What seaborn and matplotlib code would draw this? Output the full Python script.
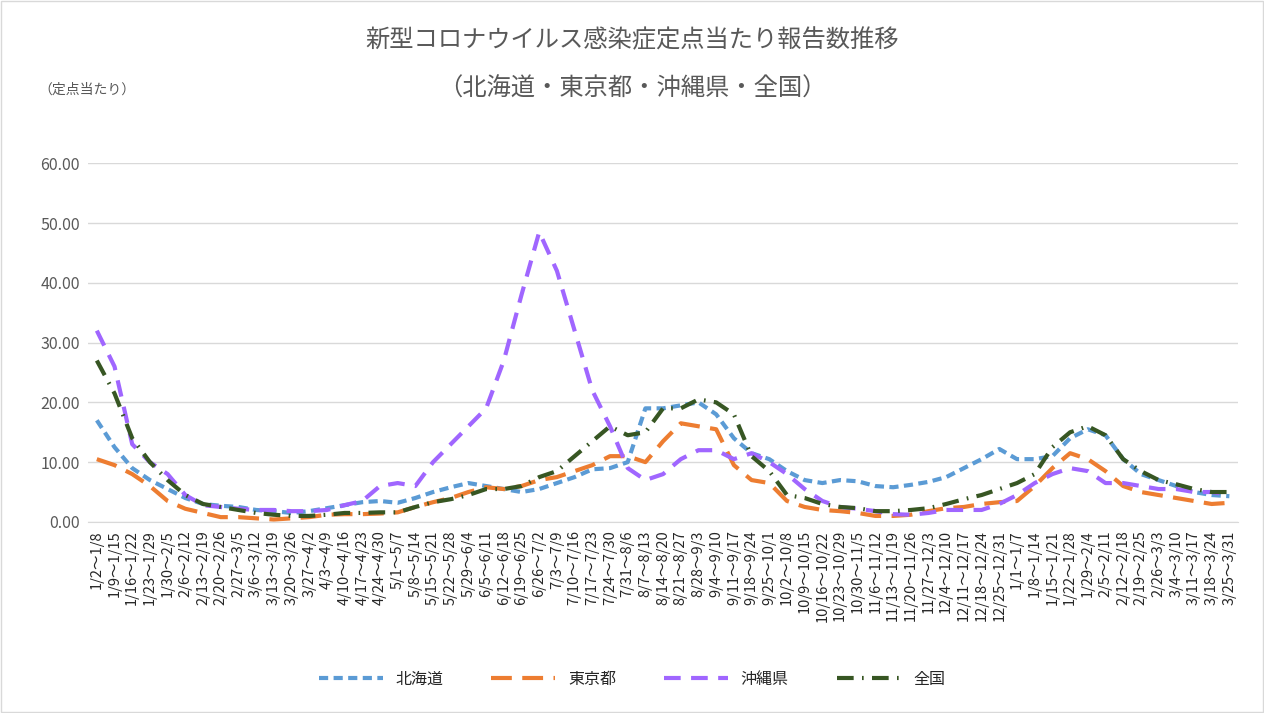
import matplotlib
matplotlib.use("Agg")
import matplotlib.pyplot as plt
import seaborn as sns
import pandas as pd
import numpy as np

plt.rcParams["font.family"] = ["Noto Sans CJK JP", "DejaVu Sans"]

weeks = ["1/2～1/8","1/9～1/15","1/16～1/22","1/23～1/29","1/30～2/5","2/6～2/12","2/13～2/19","2/20～2/26",
 "2/27～3/5","3/6～3/12","3/13～3/19","3/20～3/26","3/27～4/2","4/3～4/9","4/10～4/16","4/17～4/23",
 "4/24～4/30","5/1～5/7","5/8～5/14","5/15～5/21","5/22～5/28","5/29～6/4","6/5～6/11","6/12～6/18",
 "6/19～6/25","6/26～7/2","7/3～7/9","7/10～7/16","7/17～7/23","7/24～7/30","7/31～8/6","8/7～8/13",
 "8/14～8/20","8/21～8/27","8/28～9/3","9/4～9/10","9/11～9/17","9/18～9/24","9/25～10/1","10/2～10/8",
 "10/9～10/15","10/16～10/22","10/23～10/29","10/30～11/5","11/6～11/12","11/13～11/19","11/20～11/26",
 "11/27～12/3","12/4～12/10","12/11～12/17","12/18～12/24","12/25～12/31","1/1～1/7","1/8～1/14",
 "1/15～1/21","1/22～1/28","1/29～2/4","2/5～2/11","2/12～2/18","2/19～2/25","2/26～3/3","3/4～3/10",
 "3/11～3/17","3/18～3/24","3/25～3/31"]

hokkaido = [17,12.5,9,7,5.5,4,3,2.7,2.5,2,1.8,1.5,1.8,2.3,2.8,3.3,3.5,3.2,4,5,5.8,6.5,6,5.5,5,5.5,6.5,7.5,
            8.8,9,10,19,19,19.5,20,18,14,11.5,10.5,8.5,7,6.5,7,6.8,6,5.8,6.2,6.7,7.5,9,10.5,12.2,10.5,10.5,
            11,14,15.5,14.5,10.5,8,7,6,5,4.5,4.3]
tokyo = [10.5,9.5,8,6,3.5,2.2,1.5,0.8,0.8,0.6,0.4,0.6,0.8,1.2,1.3,1.3,1.4,1.6,2.5,3.3,4,5,5.8,5.5,6,7,7.5,
         8.5,9.5,11,11,10,13.5,16.5,16,15.5,9.5,7,6.5,3.5,2.5,2,1.8,1.5,1,1,1.2,1.8,2.3,2.5,3,3.3,3.5,6,9,
         11.5,10.5,8.5,6,5,4.5,4,3.5,3,3.2]
okinawa = [32,26,13,10,8,4.5,2.8,2.5,2.2,2,2,1.8,1.8,2,2.8,3.5,6,6.5,6,10,13,16,19,27,38,48.5,42,32,22,16,
           9,7,8,10.5,12,12,10.5,11.5,10,8,5.5,3.5,2.5,2.2,1.8,1.3,1.2,1.5,2,2,2,3,4.5,6.5,8,9,8.5,6.5,6.5,
           6,5.5,5.5,5,5,4.5]
zenkoku = [27,21.5,14,10,7,4.5,3,2.5,2,1.5,1.2,1,1,1.2,1.5,1.5,1.6,1.6,2.5,3.3,3.8,4.5,5.5,5.5,6,7.5,8.5,11,
           13.5,16,14.5,15,19,19,20.5,20,18,11,8.5,4.5,4,3,2.5,2.3,1.8,1.8,2,2.3,3,3.8,4.5,5.5,6.5,8,12.5,15,
           16,14.5,10.5,8.5,7,6.3,5.5,5,5]

series = {"北海道": hokkaido, "東京都": tokyo, "沖縄県": okinawa, "全国": zenkoku}
colors = {"北海道": "#5B9BD5", "東京都": "#ED7D31", "沖縄県": "#A066FF", "全国": "#375623"}
dashes = {"北海道": (2.2, 1.3), "東京都": (5, 2.5), "沖縄県": (4, 2.5), "全国": (4, 2, 0.4, 2)}

rows = []
for name, vals in series.items():
    for i, v in enumerate(vals):
        rows.append({"week": i, "value": v, "region": name})
df = pd.DataFrame(rows)

fig = plt.figure(figsize=(12.64, 7.13), dpi=100)
ax = fig.add_axes([0.0696, 0.268, 0.91, 0.503])
sns.lineplot(data=df, x="week", y="value", hue="region", style="region",
             palette=colors, dashes=dashes, linewidth=3, ax=ax, legend=False)

ax.set_xlim(-0.5, len(weeks) - 0.5)
ax.set_ylim(0, 60)
ax.set_yticks(np.arange(0, 61, 10))
ax.set_yticklabels([f"{v:.2f}" for v in np.arange(0, 61, 10)], fontsize=11.5, color="#595959")
ax.set_xticks(range(len(weeks)))
ax.set_xticklabels(weeks, rotation=90, fontsize=10.5, color="#262626")
ax.tick_params(length=0, pad=6)
ax.grid(axis="y", color="#D9D9D9", linewidth=1)
ax.set_axisbelow(True)
for s in ["top", "right", "left"]:
    ax.spines[s].set_visible(False)
ax.spines["bottom"].set_color("#D9D9D9")
ax.set_xlabel("")
ax.set_ylabel("")

fig.text(0.5, 0.943, "新型コロナウイルス感染症定点当たり報告数推移", ha="center", va="center",
         fontsize=17.5, color="#595959")
fig.text(0.5, 0.876, "（北海道・東京都・沖縄県・全国）", ha="center", va="center",
         fontsize=17.5, color="#595959")
fig.text(0.03, 0.874, "（定点当たり）", ha="left", va="center", fontsize=10, color="#595959")

from matplotlib.lines import Line2D
handles = [Line2D([], [], color=colors[n], lw=3, dashes=dashes[n]) for n in series]
fig.legend(handles, list(series.keys()), loc="center", bbox_to_anchor=(0.5, 0.047), ncol=4,
           frameon=False, fontsize=11.5, handlelength=4, columnspacing=3, labelcolor="#262626")

fig.patches.append(matplotlib.patches.Rectangle((0.001, 0.001), 0.998, 0.998, transform=fig.transFigure,
                                                fill=False, edgecolor="#D9D9D9", lw=1))
fig.savefig("out.png", dpi=100)
